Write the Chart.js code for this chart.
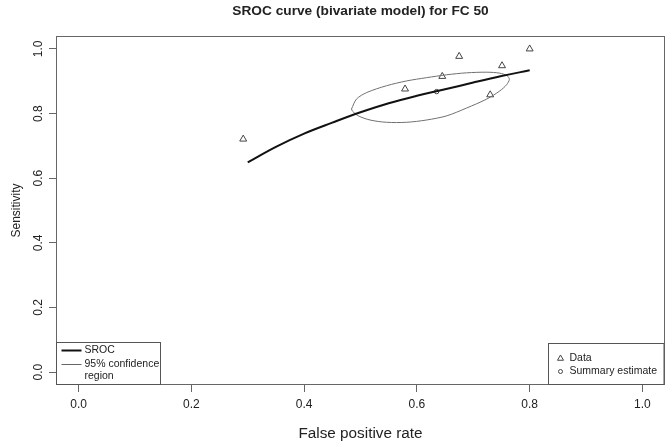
<!DOCTYPE html>
<html>
<head>
<meta charset="utf-8">
<script src="https://cdn.jsdelivr.net/npm/chart.js@4/dist/chart.umd.min.js"></script>
<style>
  html, body { margin: 0; padding: 0; background: #fff; }
  #wrap { width: 670px; height: 443px; position: relative; }
</style>
</head>
<body>
<div id="wrap"><canvas id="srocChart"></canvas></div>
<script>
// study points (FPR, sensitivity)
const dataFpr = [0.292, 0.579, 0.645, 0.675, 0.751, 0.730, 0.800];
const dataSens = [0.721, 0.876, 0.915, 0.977, 0.948, 0.858, 1.000];

// summary estimate
const summaryFpr = [0.635];
const summarySens = [0.868];

// SROC curve
const srocFpr = [0.300, 0.350, 0.400, 0.450, 0.500, 0.550, 0.600, 0.650, 0.700, 0.750, 0.800];
const srocSens = [0.649, 0.697, 0.738, 0.772, 0.804, 0.832, 0.855, 0.875, 0.896, 0.916, 0.934];

// 95% confidence region outline
const regionFpr = [0.484, 0.493, 0.511, 0.546, 0.582, 0.617, 0.653, 0.688, 0.724, 0.747, 0.760, 0.764,
                   0.759, 0.747, 0.724, 0.688, 0.653, 0.617, 0.582, 0.546, 0.517, 0.496, 0.486, 0.484];
const regionSens = [0.814, 0.845, 0.865, 0.886, 0.901, 0.911, 0.920, 0.926, 0.928, 0.925, 0.917, 0.906,
                    0.889, 0.870, 0.845, 0.817, 0.793, 0.780, 0.773, 0.773, 0.780, 0.793, 0.807, 0.814];

const axisTicks = [0, 0.2, 0.4, 0.6, 0.8, 1.0];

const zip = (xs, ys) => xs.map((x, i) => ({ x: x, y: ys[i] }));

const fontFamily = '"Liberation Sans", Arial, sans-serif';

// plot box, title and the two R-style legends
const rDecor = {
    id: 'rDecor',
    afterDraw(chart) {
        const ctx = chart.ctx;
        const a = chart.chartArea;
        ctx.save();

        ctx.strokeStyle = '#666';
        ctx.lineWidth = 1;
        ctx.strokeRect(a.left + 0.5, a.top + 0.5, a.right - a.left - 1, a.bottom - a.top - 1);

        ctx.fillStyle = '#222';
        ctx.font = 'bold 13.7px ' + fontFamily;
        ctx.textAlign = 'center';
        ctx.textBaseline = 'middle';
        ctx.fillText('SROC curve (bivariate model) for FC 50', (a.left + a.right) / 2, 11);

        // left legend
        let x0 = a.left + 0.5, y0 = a.bottom - 42.5;
        ctx.strokeStyle = '#555';
        ctx.strokeRect(x0, y0, 104, 42);
        ctx.textAlign = 'left';
        ctx.font = '10.5px ' + fontFamily;
        ctx.fillStyle = '#222';
        ctx.strokeStyle = '#111';
        ctx.lineWidth = 2;
        ctx.beginPath(); ctx.moveTo(x0 + 5, y0 + 8); ctx.lineTo(x0 + 25, y0 + 8); ctx.stroke();
        ctx.fillText('SROC', x0 + 28, y0 + 8);
        ctx.strokeStyle = '#666';
        ctx.lineWidth = 1;
        ctx.beginPath(); ctx.moveTo(x0 + 5, y0 + 22); ctx.lineTo(x0 + 25, y0 + 22); ctx.stroke();
        ctx.fillText('95% confidence', x0 + 28, y0 + 22);
        ctx.fillText('region', x0 + 28, y0 + 34);

        // right legend
        x0 = 548.5; y0 = a.bottom - 41.5;
        ctx.strokeStyle = '#555';
        ctx.strokeRect(x0, y0, a.right - 1 - x0, 41);
        ctx.fillText('Data', x0 + 21, y0 + 15);
        ctx.fillText('Summary estimate', x0 + 21, y0 + 28);
        ctx.strokeStyle = '#444';
        ctx.fillStyle = 'rgba(0,0,0,0)';
        Chart.helpers.drawPoint(ctx, { pointStyle: 'triangle', radius: 3.5, borderWidth: 1 }, x0 + 12, y0 + 15);
        Chart.helpers.drawPoint(ctx, { pointStyle: 'circle', radius: 2, borderWidth: 1 }, x0 + 12, y0 + 28);

        ctx.restore();
    }
};

const axisBase = {
    type: 'linear',
    min: -0.04,
    max: 1.04,
    afterBuildTicks: (scale) => { scale.ticks = axisTicks.map(v => ({ value: v })); },
    border: { display: false },
    grid: { drawOnChartArea: false, drawTicks: true, tickLength: 7, color: '#666' }
};

new Chart(document.getElementById('srocChart'), {
    type: 'scatter',
    data: {
        datasets: [
            {
                label: 'SROC',
                data: zip(srocFpr, srocSens),
                showLine: true,
                borderColor: '#111',
                borderWidth: 2,
                pointRadius: 0,
                tension: 0.4
            },
            {
                label: '95% confidence region',
                data: zip(regionFpr, regionSens),
                showLine: true,
                borderColor: '#707070',
                borderWidth: 1,
                pointRadius: 0,
                tension: 0.3
            },
            {
                label: 'Data',
                data: zip(dataFpr, dataSens),
                pointStyle: 'triangle',
                pointRadius: 4,
                borderColor: '#444',
                backgroundColor: 'rgba(0,0,0,0)',
                borderWidth: 1
            },
            {
                label: 'Summary estimate',
                data: zip(summaryFpr, summarySens),
                pointStyle: 'circle',
                pointRadius: 2.2,
                borderColor: '#444',
                backgroundColor: 'rgba(0,0,0,0)',
                borderWidth: 1
            }
        ]
    },
    options: {
        responsive: true,
        maintainAspectRatio: false,
        animation: false,
        layout: { padding: { top: 36, right: 5, left: 0, bottom: 0 } },
        scales: {
            x: Object.assign({}, axisBase, {
                afterFit: (scale) => { scale.height = 58; },
                ticks: {
                    padding: 5,
                    color: '#222',
                    font: { family: fontFamily, size: 12 },
                    callback: (v) => v.toFixed(1)
                },
                title: {
                    display: true,
                    text: 'False positive rate',
                    color: '#222',
                    font: { family: fontFamily, size: 15.3 },
                    padding: { top: 0, bottom: 0 }
                }
            }),
            y: Object.assign({}, axisBase, {
                afterFit: (scale) => { scale.width = 56; },
                ticks: {
                    padding: 2,
                    minRotation: 90,
                    maxRotation: 90,
                    crossAlign: 'center',
                    color: '#222',
                    font: { family: fontFamily, size: 12 },
                    callback: (v) => v.toFixed(1)
                },
                title: {
                    display: true,
                    text: 'Sensitivity',
                    color: '#222',
                    font: { family: fontFamily, size: 12 },
                    padding: { top: 9, bottom: 0 }
                }
            })
        },
        plugins: {
            legend: { display: false },
            title: { display: false },
            tooltip: { enabled: false }
        }
    },
    plugins: [rDecor]
});
</script>
</body>
</html>
